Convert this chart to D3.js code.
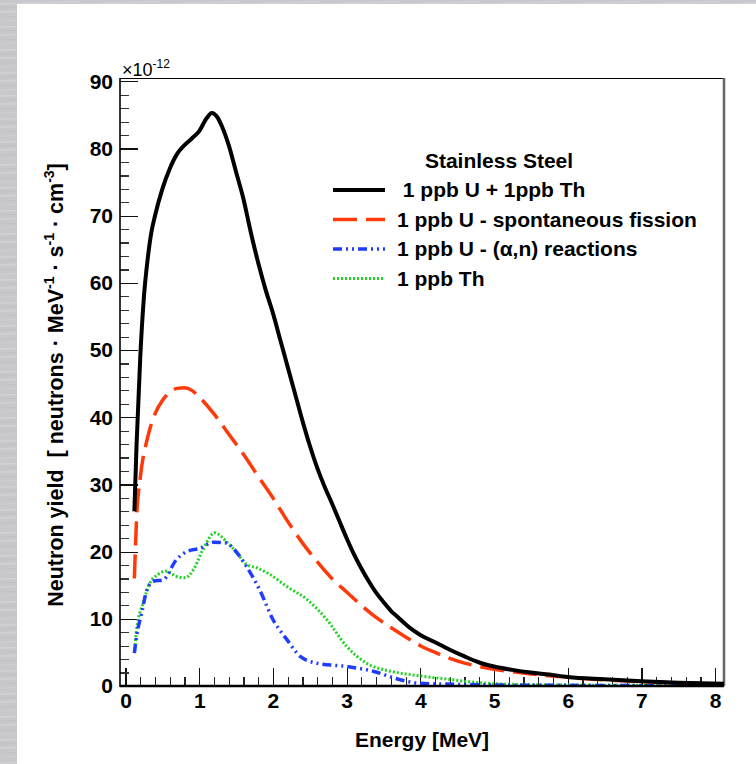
<!DOCTYPE html>
<meta charset="utf-8">
<script src="https://cdn.jsdelivr.net/npm/d3@7/dist/d3.min.js"></script>
<style>
body { margin: 0; background: #fff; }
text { font-family: "Liberation Sans", Arial, Helvetica, sans-serif; font-weight: bold; fill: #000; }
.tick line { shape-rendering: crispEdges; }
</style>
<body>
<script>

// energy [MeV] / yield [x1e-12]
var totalPts = [[0.12,26],[0.15,36],[0.2,49],[0.25,58],[0.3,63.5],[0.35,67.5],[0.4,70],[0.5,74],[0.6,77],[0.7,79.2],
  [0.8,80.5],[0.9,81.5],[1.0,82.6],[1.1,84.5],[1.17,85.3],[1.25,84.6],[1.3,83.5],[1.4,80.5],[1.5,76.5],[1.6,72.5],
  [1.7,67.5],[1.8,63],[1.9,59],[2.0,55.5],[2.1,51.5],[2.2,47.5],[2.3,43.5],[2.4,39.5],[2.5,35.8],[2.6,32.5],
  [2.7,29.7],[2.8,27.2],[2.9,24.6],[3.0,22],[3.1,19.6],[3.2,17.5],[3.3,15.6],[3.4,13.9],[3.5,12.5],[3.6,11.2],
  [3.7,10.2],[3.8,9.2],[3.9,8.3],[4.0,7.6],[4.2,6.5],[4.4,5.4],[4.6,4.4],[4.8,3.5],[5.0,2.9],[5.25,2.4],
  [5.5,2.0],[5.75,1.7],[6.0,1.35],[6.5,1.0],[7.0,0.7],[7.5,0.5],[8.12,0.35]];

var fissionPts = [[0.12,16],[0.15,25],[0.2,31],[0.3,37],[0.4,40.5],[0.5,42.5],[0.6,43.7],[0.7,44.3],[0.8,44.4],
  [0.9,44],[1.0,43],[1.2,40.5],[1.4,37.5],[1.6,34.5],[1.8,31.2],[2.0,28],[2.2,24.5],[2.4,21.3],[2.6,18.5],
  [2.8,16],[3.0,14],[3.2,12],[3.4,10.2],[3.6,8.7],[3.8,7.3],[4.0,6.0],[4.2,5.0],[4.4,4.1],[4.6,3.4],[4.8,2.9],
  [5.0,2.5],[5.5,1.8],[6.0,1.3],[6.5,0.9],[7.0,0.65],[7.5,0.45],[8.12,0.3]];

var alphaNPts = [[0.12,4.9],[0.15,7.4],[0.22,10.9],[0.29,14.3],[0.38,15.6],[0.51,15.8],[0.69,18.8],[0.83,20],
  [1.01,20.5],[1.19,21.4],[1.37,21.3],[1.46,20.5],[1.64,17.8],[1.82,14.3],[2.0,9.9],[2.19,6.9],[2.37,4.4],
  [2.59,3.4],[3.0,2.9],[3.36,2.2],[3.72,0.95],[4.0,0.4],[4.5,0.25],[5.0,0.15],[6.0,0.1],[7.0,0.05],[8.12,0.03]];

var thoriumPts = [[0.12,4.9],[0.15,8.4],[0.24,12.4],[0.33,15.3],[0.44,16.6],[0.56,17.1],[0.69,16.3],[0.81,16.1],
  [0.92,17.3],[1.05,20.3],[1.21,22.8],[1.37,21.5],[1.51,19.8],[1.64,18.1],[1.78,17.6],[1.96,16.6],[2.19,14.8],
  [2.46,12.9],[2.73,9.9],[3.0,5.9],[3.27,3.4],[3.59,2.2],[3.8,1.8],[4.0,1.5],[4.3,1.1],[4.6,0.7],[5.0,0.35],
  [5.5,0.2],[6.0,0.15],[7.0,0.1],[8.12,0.05]];

var seriesNames = [" 1 ppb U + 1ppb Th", "1 ppb U - spontaneous fission", "1 ppb U - (\u03b1,n) reactions", "1 ppb Th"];
var legendTitle = "Stainless Steel";
var xMajor = [0, 1, 2, 3, 4, 5, 6, 7, 8];
var yMajor = [0, 10, 20, 30, 40, 50, 60, 70, 80, 90];

var width = 756, height = 764;
var padL = 120, padR = 724, padT = 78, padB = 686;

var svg = d3.select("body").append("svg")
    .attr("width", width)
    .attr("height", height);

var defs = svg.append("defs");

// brushed metal strip round the white panel
var pat = defs.append("pattern").attr("id", "brush")
    .attr("patternUnits", "userSpaceOnUse")
    .attr("width", 80).attr("height", 23);
pat.append("rect").attr("width", 80).attr("height", 23).attr("fill", "#c8c8cc");
[[2, "#d2d2d6", 1.5], [6, "#c1c1c5", 1], [10, "#d0d0d4", 2], [15, "#c2c2c6", 1], [19, "#cfcfd3", 1.2]]
  .forEach(function(s) {
    pat.append("line")
      .attr("x1", 0).attr("y1", s[0] + 2)
      .attr("x2", 80).attr("y2", s[0])
      .attr("stroke", s[1]).attr("stroke-width", s[2]);
  });

svg.append("rect").attr("width", width).attr("height", height).attr("fill", "url(#brush)");
svg.append("rect").attr("x", 17).attr("y", 4).attr("width", width - 17).attr("height", height - 4).attr("fill", "#fff");

var x = d3.scaleLinear().domain([-0.075, 8.12]).range([padL, padR]);
var y = d3.scaleLinear().domain([0, 90.5]).range([padB, padT]);

defs.append("clipPath").attr("id", "clip")
  .append("rect").attr("x", padL).attr("y", padT).attr("width", padR - padL).attr("height", padB - padT);

// x axis ticks
svg.append("g")
    .attr("transform", "translate(0," + padB + ")")
    .call(d3.axisBottom(x).tickValues(d3.range(0.2, 8.1, 0.2).filter(function(v) { return Math.abs(v - Math.round(v)) > 0.01; }))
      .tickSize(-9).tickSizeOuter(0).tickFormat(""))
    .call(function(g) { g.select(".domain").remove(); g.selectAll("line").attr("stroke", "#222").attr("stroke-width", 1.2); });

svg.append("g")
    .attr("transform", "translate(0," + padB + ")")
    .call(d3.axisBottom(x).tickValues(xMajor).tickSize(-18).tickSizeOuter(0).tickPadding(7).tickFormat(d3.format("d")))
    .call(function(g) {
      g.select(".domain").remove();
      g.attr("font-size", null).attr("font-family", null);
      g.selectAll("line").attr("stroke", "#111").attr("stroke-width", 1.2);
      g.selectAll("text").style("font-size", "21px").attr("fill", "#000");
    });

// y axis ticks
svg.append("g")
    .attr("transform", "translate(" + padL + ",0)")
    .call(d3.axisLeft(y).tickValues(d3.range(2, 90, 2).filter(function(v) { return v % 10 !== 0; }))
      .tickSize(-9).tickSizeOuter(0).tickFormat(""))
    .call(function(g) { g.select(".domain").remove(); g.selectAll("line").attr("stroke", "#333").attr("stroke-width", 1.2); });

svg.append("g")
    .attr("transform", "translate(" + padL + ",0)")
    .call(d3.axisLeft(y).tickValues(yMajor).tickSize(-18).tickSizeOuter(0).tickPadding(7).tickFormat(d3.format("d")))
    .call(function(g) {
      g.select(".domain").remove();
      g.attr("font-size", null).attr("font-family", null);
      g.selectAll("line").attr("stroke", "#111").attr("stroke-width", 1.2);
      g.selectAll("text").style("font-size", "21px").attr("fill", "#000");
    });

// frame
svg.append("line").attr("x1", padL).attr("x2", padR).attr("y1", padT + 0.5).attr("y2", padT + 0.5)
    .attr("stroke", "#000").attr("stroke-width", 1.2);
svg.append("line").attr("x1", padR).attr("x2", padR).attr("y1", padT).attr("y2", padB)
    .attr("stroke", "#666").attr("stroke-width", 2.5);
svg.append("line").attr("x1", padL).attr("x2", padL).attr("y1", padT).attr("y2", padB + 1)
    .attr("stroke", "#000").attr("stroke-width", 1.6);

// curves
var line = d3.line()
    .x(function(d) { return x(d[0]); })
    .y(function(d) { return y(d[1]); })
    .curve(d3.curveMonotoneX);

var styles = [
  { color: "#000000", width: 4, dash: null },
  { color: "#ff3a0a", width: 3.5, dash: "24,9" },
  { color: "#1f3dff", width: 3.5, dash: "9,4,2,4,2,4" },
  { color: "#22d422", width: 3, dash: "2,2" }
];
var allSeries = [totalPts, fissionPts, alphaNPts, thoriumPts];

var plot = svg.append("g").attr("clip-path", "url(#clip)");
// green and blue first, black on top
[3, 2, 1, 0].forEach(function(i) {
  plot.append("path")
      .datum(allSeries[i])
      .attr("d", line)
      .attr("fill", "none")
      .attr("stroke", styles[i].color)
      .attr("stroke-width", styles[i].width)
      .attr("stroke-dasharray", styles[i].dash)
      .attr("stroke-linejoin", "round");
});

// bottom axis line over the curves
svg.append("line").attr("x1", padL).attr("x2", padR).attr("y1", padB).attr("y2", padB)
    .attr("stroke", "#000").attr("stroke-width", 2.5);

// exponent
var ex = svg.append("text").attr("x", 122).attr("y", 76).style("font-weight", "normal").style("font-size", "18px");
ex.append("tspan").text("\u00d710");
ex.append("tspan").attr("dy", -8).style("font-size", "12px").text("-12");

// axis titles
svg.append("text")
    .attr("x", (padL + padR) / 2).attr("y", 747)
    .attr("text-anchor", "middle")
    .style("font-size", "21px")
    .text("Energy [MeV]");

var yt = svg.append("text")
    .attr("transform", "translate(63,385) rotate(-90)")
    .attr("text-anchor", "middle")
    .style("font-size", "21.5px")
    .style("white-space", "pre");
yt.append("tspan").text("Neutron yield  [ neutrons \u00b7 MeV");
yt.append("tspan").attr("dy", -9).style("font-size", "14px").text("-1");
yt.append("tspan").attr("dy", 9).text(" \u00b7 s");
yt.append("tspan").attr("dy", -9).style("font-size", "14px").text("-1");
yt.append("tspan").attr("dy", 9).text(" \u00b7 cm");
yt.append("tspan").attr("dy", -9).style("font-size", "14px").text("-3");
yt.append("tspan").attr("dy", 9).text("]");

// legend
var lg = svg.append("g");
lg.append("text").attr("x", 499).attr("y", 168).attr("text-anchor", "middle")
    .style("font-size", "21px").text(legendTitle);

seriesNames.forEach(function(name, i) {
  var ly = 190 + i * 29.5;
  lg.append("line")
      .attr("x1", 333).attr("x2", 385).attr("y1", ly).attr("y2", ly)
      .attr("stroke", styles[i].color)
      .attr("stroke-width", styles[i].width)
      .attr("stroke-dasharray", styles[i].dash);
  lg.append("text").attr("x", 397).attr("y", ly + 7)
      .style("font-size", "21px").style("white-space", "pre")
      .text(name);
});

</script>
</body>
</html>
